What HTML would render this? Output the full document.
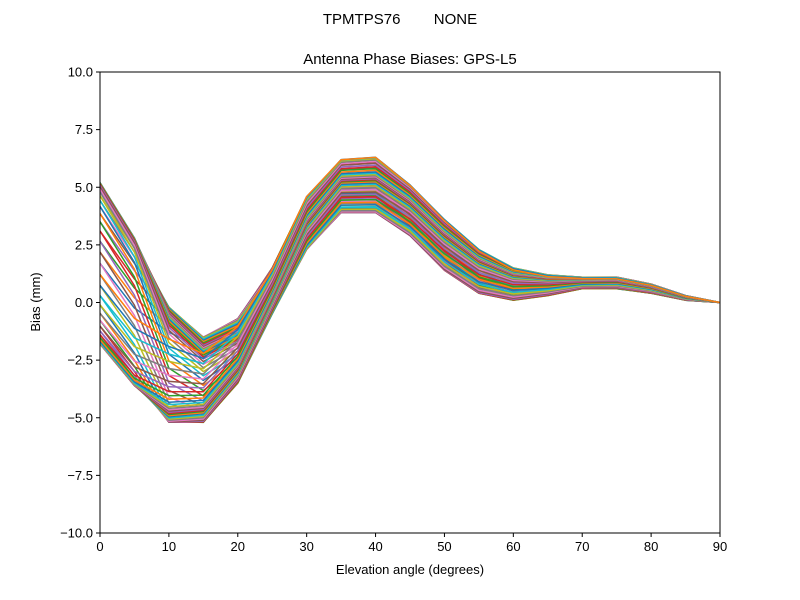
<!DOCTYPE html>
<html><head><meta charset="utf-8"><style>
body{margin:0;background:#fff;}
svg{display:block;font-family:"Liberation Sans","DejaVu Sans",sans-serif;}
</style></head><body>
<svg id="s" width="800" height="600" viewBox="0 0 800 600" xmlns="http://www.w3.org/2000/svg">
<rect width="800" height="600" fill="#fff"/>
<defs><clipPath id="c"><rect x="100" y="72" width="620" height="461"/></clipPath></defs>
<g id="lines" clip-path="url(#c)"></g>
<rect x="100" y="72" width="620" height="461" fill="none" stroke="#000" stroke-width="1"/>
<g id="ticks" font-size="13" fill="#000"></g>
<text x="400" y="24" text-anchor="middle" font-size="15" xml:space="preserve">TPMTPS76        NONE</text>
<text x="410" y="64" text-anchor="middle" font-size="15">Antenna Phase Biases: GPS-L5</text>
<text x="410" y="574" text-anchor="middle" font-size="13">Elevation angle (degrees)</text>
<text transform="translate(40,302) rotate(-90)" text-anchor="middle" font-size="13">Bias (mm)</text>
</svg>
<script>
function X(e){return 100+e*620/90;}
function Y(v){return 302.5-v*23.05;}
var t=document.getElementById("ticks"),h="";
for(var e=0;e<=90;e+=10){var x=X(e);h+='<line x1="'+x+'" y1="533" x2="'+x+'" y2="537" stroke="#000"/><text x="'+x+'" y="551" text-anchor="middle">'+e+'</text>';}
for(var v=-10;v<=10;v+=2.5){var y=Y(v);h+='<line x1="96" y1="'+y+'" x2="100" y2="'+y+'" stroke="#000"/><text x="93" y="'+(y+4.5)+'" text-anchor="end">'+v.toFixed(1).replace("-","\u2212")+'</text>';}
t.innerHTML=h;
var mn=[-1.8,-3.6,-5.2,-5.2,-3.5,-0.5,2.3,3.9,3.9,2.9,1.4,0.4,0.1,0.3,0.6,0.6,0.4,0.1,0];
var mx=[5.2,2.8,-0.2,-1.5,-0.7,1.5,4.6,6.2,6.3,5.1,3.6,2.3,1.5,1.2,1.1,1.1,0.8,0.3,0];
var ph=[0,0.05,0.6,0.8,1.0,1.3,1.6,1.8,1.8,1.9,2.0,2.1,2.2,2.3,2.4,2.5,2.5,2.5,2.5];
var cols=["#1f77b4","#ff7f0e","#2ca02c","#d62728","#9467bd","#8c564b","#e377c2","#7f7f7f","#bcbd22","#17becf"];
var g=document.getElementById("lines"),s="";
var N=72;
for(var i=0;i<N;i++){var a=i/N*2*Math.PI,d="";
for(var k=0;k<19;k++){var f=0.5+0.5*Math.sin(a+ph[k]+0.3*Math.sin(2*a));
var v=mn[k]+(mx[k]-mn[k])*f;d+=(k?"L":"M")+X(k*5).toFixed(1)+","+Y(v).toFixed(1);}
s+='<path d="'+d+'" fill="none" stroke="'+cols[i%10]+'" stroke-width="1.5" stroke-linejoin="round"/>';}
g.innerHTML=s;
</script>
</body></html>
